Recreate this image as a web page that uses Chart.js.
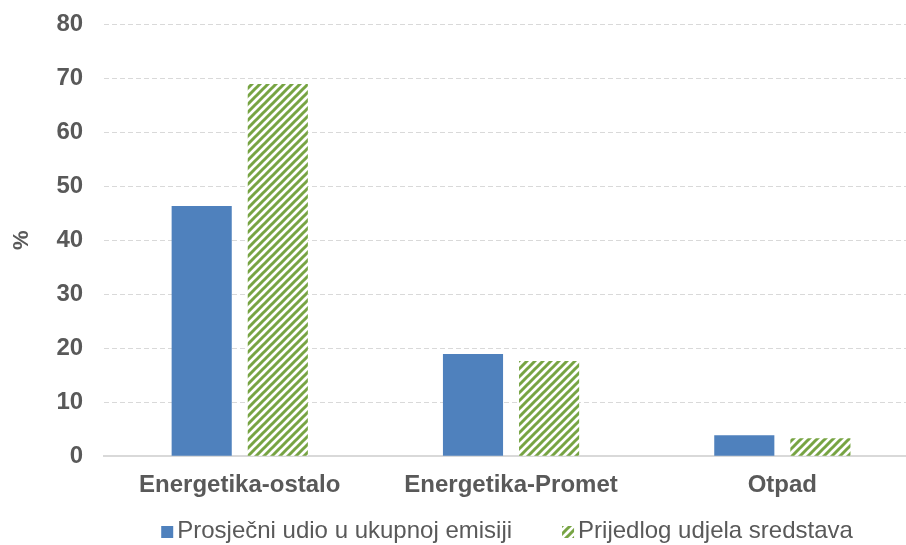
<!DOCTYPE html>
<html>
<head>
<meta charset="utf-8">
<script src="https://cdn.jsdelivr.net/npm/chart.js@4"></script>
<style>
  html, body { margin: 0; padding: 0; background: #fff; overflow: hidden; }
  #wrap { width: 918px; height: 545px; position: relative; }
</style>
</head>
<body>
<div id="wrap"><canvas id="emisijeChart"></canvas></div>
<script>
// Udio sektora u emisiji i prijedlog raspodjele sredstava (%)
var categories = ['Energetika-ostalo', 'Energetika-Promet', 'Otpad'];
var udioEmisije = [46.3, 18.9, 3.9];
var udioSredstava = [68.9, 17.6, 3.3];
var seriesNames = ['Prosječni udio u ukupnoj emisiji', 'Prijedlog udjela sredstava'];

var textColor = '#595959';
var gridColor = '#d9d9d9';
var fontFamily = 'Liberation Sans, Arial, sans-serif';

// diagonal green stripes for the second series
function makeStripes() {
    var size = 8;
    var c = document.createElement('canvas');
    c.width = size;
    c.height = size;
    var g = c.getContext('2d');
    g.fillStyle = '#ffffff';
    g.fillRect(0, 0, size, size);
    g.strokeStyle = '#77a443';
    g.lineWidth = 3;
    g.beginPath();
    g.moveTo(-2, size + 2); g.lineTo(size + 2, -2);
    g.moveTo(-2, 2); g.lineTo(2, -2);
    g.moveTo(size - 2, size + 2); g.lineTo(size + 2, size - 2);
    g.stroke();
    return g.createPattern(c, 'repeat');
}

// compact legend under the plot: small square right next to the text
var bottomLegend = {
    id: 'bottomLegend',
    afterDraw: function(chart) {
        var c = chart.ctx;
        var box = 12, gap = 4, spacing = 50;
        var area = chart.chartArea;
        var y = chart.height - 7;
        c.save();
        c.font = '24px ' + fontFamily;
        c.textBaseline = 'alphabetic';
        var items = chart.data.datasets.map(function(ds) {
            return { text: ds.label, fill: ds.backgroundColor, w: c.measureText(ds.label).width };
        });
        var total = items.reduce(function(s, it) { return s + box + gap + it.w; }, 0) + spacing * (items.length - 1);
        var x = (area.left + area.right) / 2 - total / 2 - 4;
        items.forEach(function(it) {
            c.fillStyle = it.fill;
            c.fillRect(x, y - box, box, box);
            c.fillStyle = textColor;
            c.fillText(it.text, x + box + gap, y);
            x += box + gap + it.w + spacing;
        });
        c.restore();
    }
};

var ctx = document.getElementById('emisijeChart').getContext('2d');
var stripes = makeStripes();

new Chart(ctx, {
    type: 'bar',
    data: {
        labels: categories,
        datasets: [{
            label: seriesNames[0],
            data: udioEmisije,
            backgroundColor: '#4f81bd',
            borderWidth: 0
        }, {
            label: seriesNames[1],
            data: udioSredstava,
            backgroundColor: stripes,
            borderWidth: 0
        }]
    },
    plugins: [bottomLegend],
    options: {
        responsive: true,
        maintainAspectRatio: false,
        animation: false,
        categoryPercentage: 0.561,
        barPercentage: 0.79,
        layout: { padding: { top: 24, left: 9, right: 0, bottom: 30 } },
        plugins: {
            tooltip: { enabled: false },
            legend: { display: false }
        },
        scales: {
            x: {
                grid: { display: false, drawTicks: false },
                border: { color: gridColor, width: 2 },
                ticks: {
                    color: textColor,
                    padding: 15,
                    font: { family: fontFamily, size: 24, weight: 'bold' }
                }
            },
            y: {
                min: 0,
                max: 80,
                afterFit: function(scale) {
                    // top label may overhang the plot area
                    scale.paddingTop = 0;
                },
                ticks: {
                    stepSize: 10,
                    color: textColor,
                    padding: 21,
                    font: { family: fontFamily, size: 24, weight: 'bold' }
                },
                grid: { color: gridColor, drawTicks: false },
                border: { display: false, dash: [5, 3] },
                title: {
                    display: true,
                    text: '%',
                    color: textColor,
                    padding: { top: 0, bottom: 0 },
                    font: { family: fontFamily, size: 22, weight: 'bold' }
                }
            }
        }
    }
});
</script>
</body>
</html>
